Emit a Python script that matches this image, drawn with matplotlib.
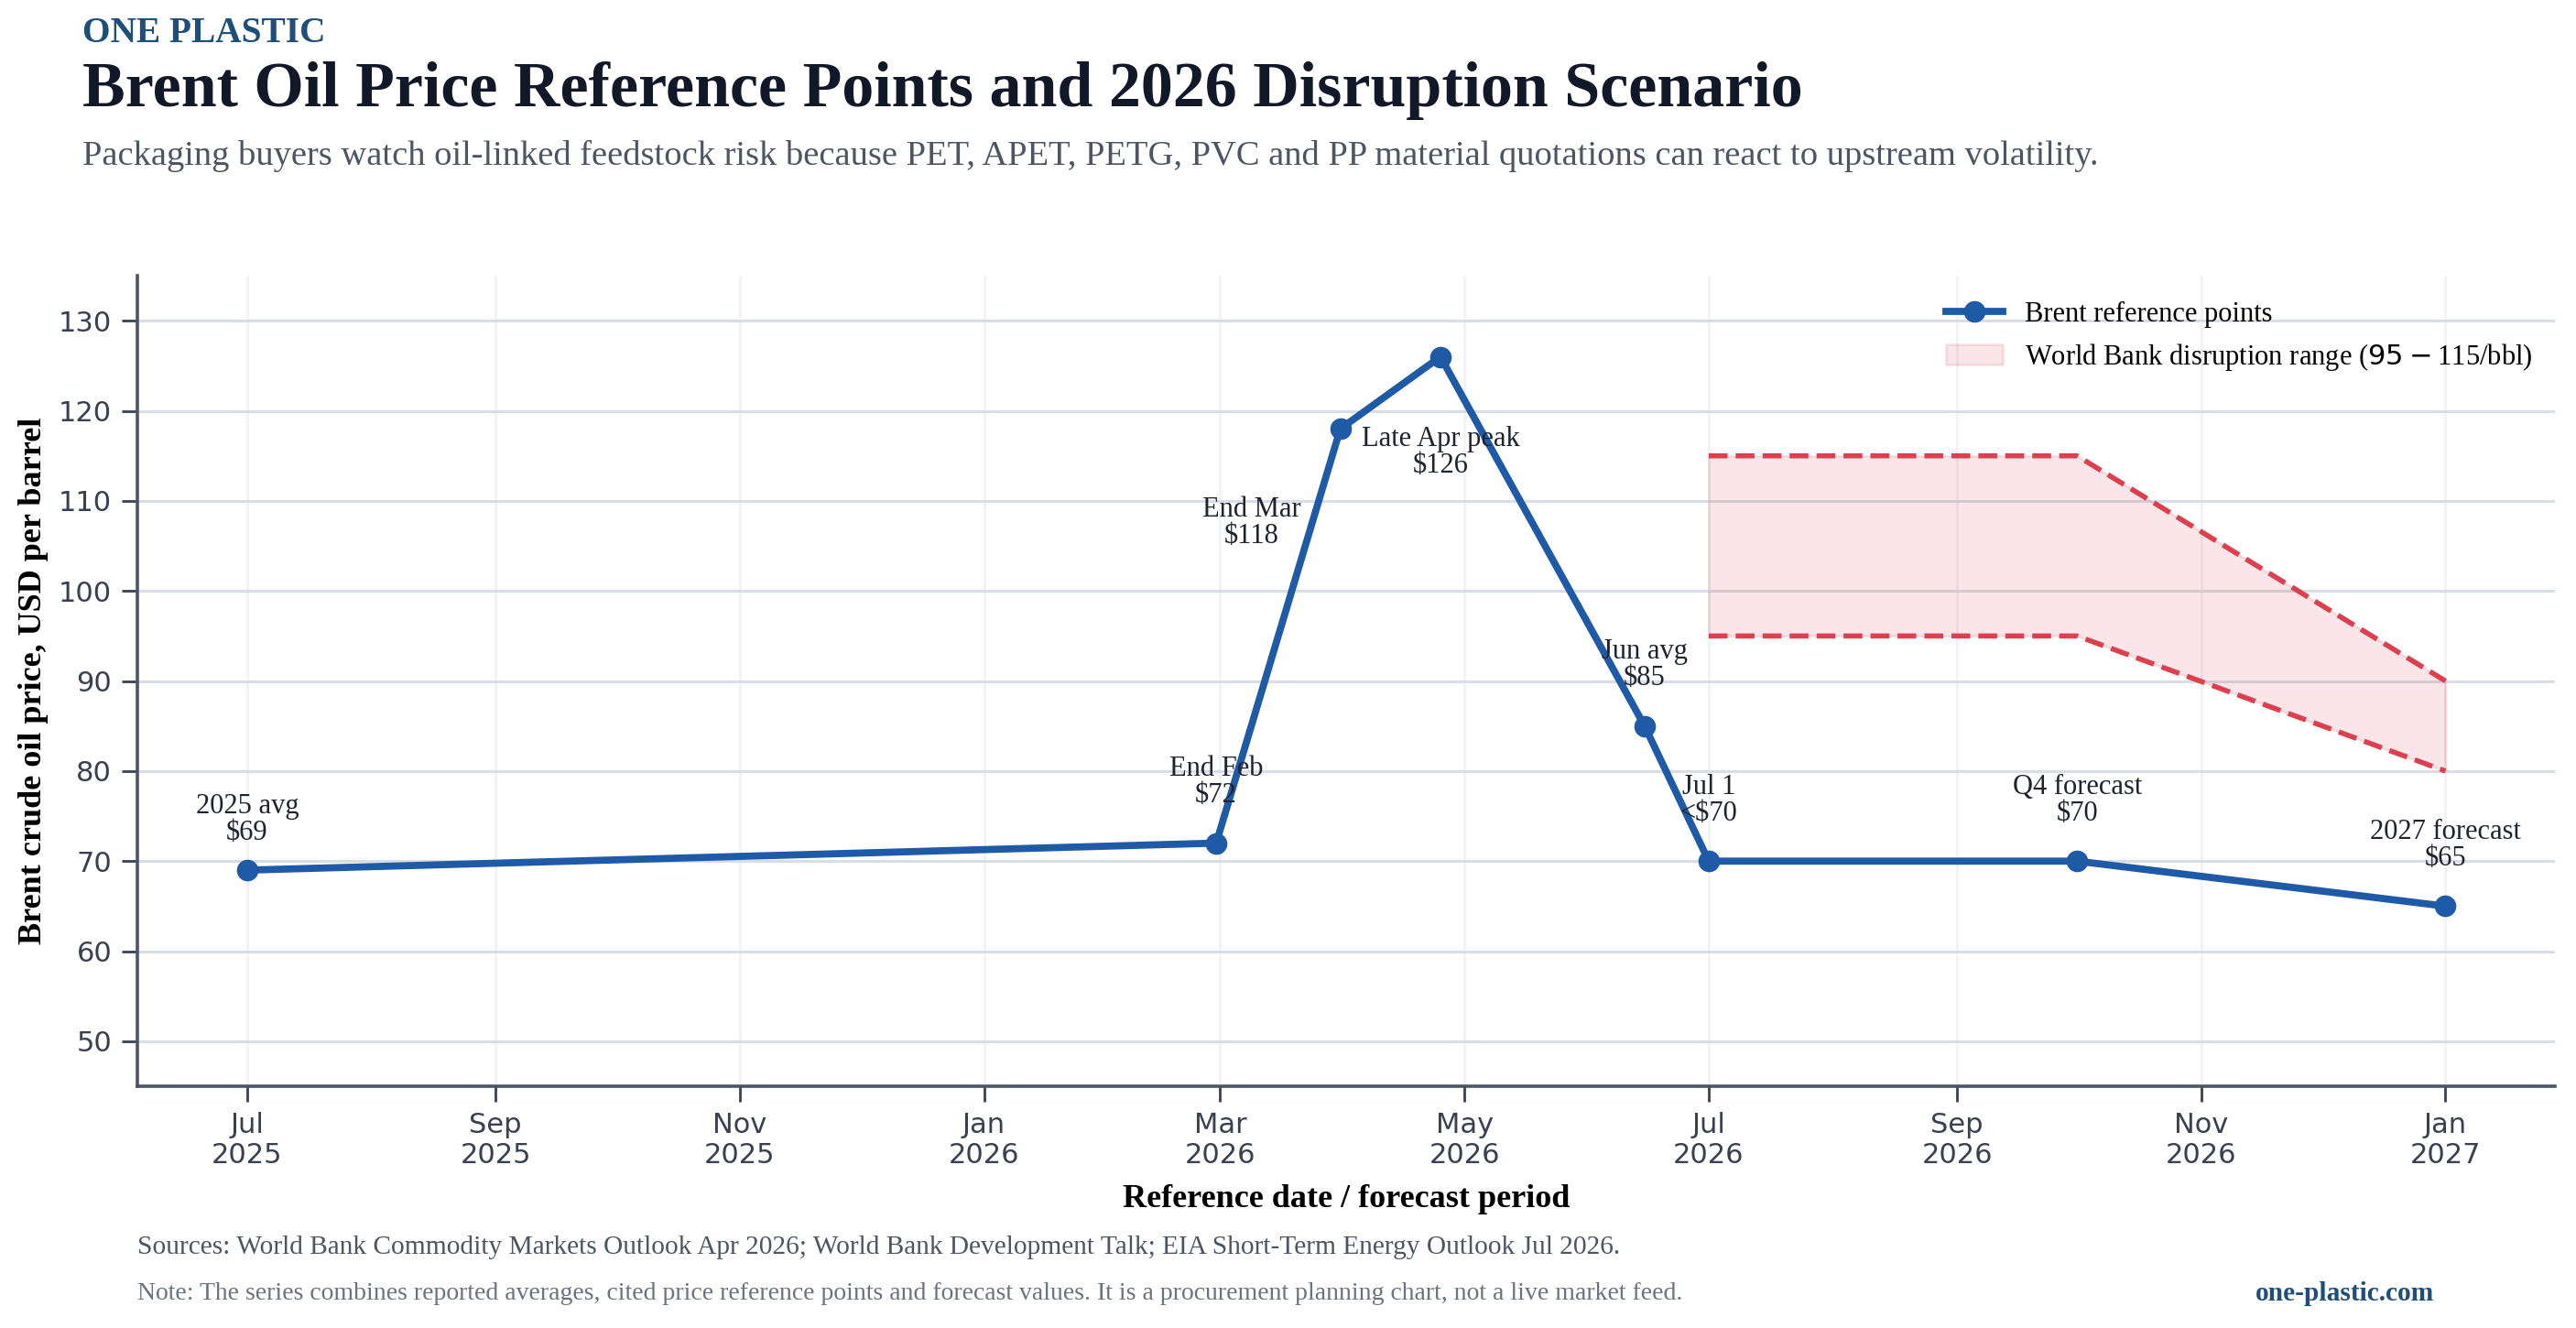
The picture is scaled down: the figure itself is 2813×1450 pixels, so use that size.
import matplotlib
matplotlib.use("Agg")
import matplotlib.pyplot as plt
import matplotlib.dates as mdates
import pandas as pd

# --- data ---
ref_dates = ["2025-07-01", "2026-02-28", "2026-03-31", "2026-04-25",
             "2026-06-15", "2026-07-01", "2026-10-01", "2027-01-01"]
ref_prices = [69, 72, 118, 126, 85, 70, 70, 65]
ref_labels = ["2025 avg\n$69", "End Feb\n$72", "End Mar\n$118", "Late Apr peak\n$126",
              "Jun avg\n$85", "Jul 1\n<$70", "Q4 forecast\n$70", "2027 forecast\n$65"]

range_dates = ["2026-07-01", "2026-10-01", "2027-01-01"]
range_low = [95, 95, 80]
range_high = [115, 115, 90]

BLUE = "#1f5aa6"
RED = "#dc3f4f"
SERIF = "Liberation Serif"

x = pd.to_datetime(ref_dates)
xr = pd.to_datetime(range_dates)

fig = plt.figure(figsize=(14.065, 7.25), dpi=200)
ax = fig.add_axes([0.0533, 0.182, 0.9387, 0.6104])

ax.fill_between(xr, range_low, range_high, color=RED, alpha=0.13, lw=1,
                label="World Bank disruption range ($95-$115/bbl)")
ax.plot(xr, range_high, color=RED, lw=2, ls="--")
ax.plot(xr, range_low, color=RED, lw=2, ls="--")
ax.plot(x, ref_prices, color=BLUE, lw=2.8, marker="o", ms=7.5,
        label="Brent reference points", zorder=4)

# annotation offsets in points
offsets = {0: (0, 20), 2: (-35, -37), 3: (0, -37.5)}
for i, (xd, yv, lab) in enumerate(zip(x, ref_prices, ref_labels)):
    dx, dy = offsets.get(i, (0, 24))
    ax.annotate(lab, (xd, yv), xytext=(dx, dy), textcoords="offset points",
                ha="center", va="center", fontsize=11, family=SERIF,
                color="#1f2330", linespacing=1.0, zorder=5)

ax.set_ylim(45, 135)
ax.set_yticks(range(50, 131, 10))
ax.xaxis.set_major_locator(mdates.MonthLocator(bymonth=[1, 3, 5, 7, 9, 11]))
ax.xaxis.set_major_formatter(mdates.DateFormatter("%b\n%Y"))

ax.grid(axis="y", color="#d8dde6", lw=1.1)
ax.grid(axis="x", color="#eef1f5", lw=0.9)
ax.set_axisbelow(True)
for s in ["top", "right"]:
    ax.spines[s].set_visible(False)
for s in ["left", "bottom"]:
    ax.spines[s].set_color("#4b5563")
    ax.spines[s].set_linewidth(1.3)
ax.tick_params(colors="#374151", labelsize=11, length=6, width=1, pad=4)

ax.set_ylabel("Brent crude oil price, USD per barrel", family=SERIF,
              fontsize=13, fontweight="bold", color="black", labelpad=4)
ax.set_xlabel("Reference date / forecast period", family=SERIF,
              fontsize=13, fontweight="bold", color="black", labelpad=6)

h, l = ax.get_legend_handles_labels()
ax.legend(h[::-1], l[::-1], loc="upper right", frameon=False,
          prop={"family": SERIF, "size": 11}, bbox_to_anchor=(1.001, 1.0))

# header
fig.text(0.032, 0.975, "ONE PLASTIC", family=SERIF, fontweight="bold",
         fontsize=14.2, color="#1f4e79", va="center")
fig.text(0.032, 0.932, "Brent Oil Price Reference Points and 2026 Disruption Scenario",
         family=SERIF, fontweight="bold", fontsize=25.2, color="#111827", va="center")
fig.text(0.032, 0.8825, "Packaging buyers watch oil-linked feedstock risk because PET, APET, "
         "PETG, PVC and PP material quotations can react to upstream volatility.",
         family=SERIF, fontsize=13.85, color="#4b5563", va="center")

# footer
fig.text(0.0533, 0.061, "Sources: World Bank Commodity Markets Outlook Apr 2026; World Bank "
         "Development Talk; EIA Short-Term Energy Outlook Jul 2026.",
         family=SERIF, fontsize=10.6, color="#4b5563", va="center")
fig.text(0.0533, 0.026, "Note: The series combines reported averages, cited price reference "
         "points and forecast values. It is a procurement planning chart, not a live market feed.",
         family=SERIF, fontsize=10, color="#6b7280", va="center")
fig.text(0.945, 0.026, "one-plastic.com", family=SERIF, fontweight="bold",
         fontsize=10.6, color="#1f4e79", va="center", ha="right")

fig.savefig("out.png", dpi=200)
